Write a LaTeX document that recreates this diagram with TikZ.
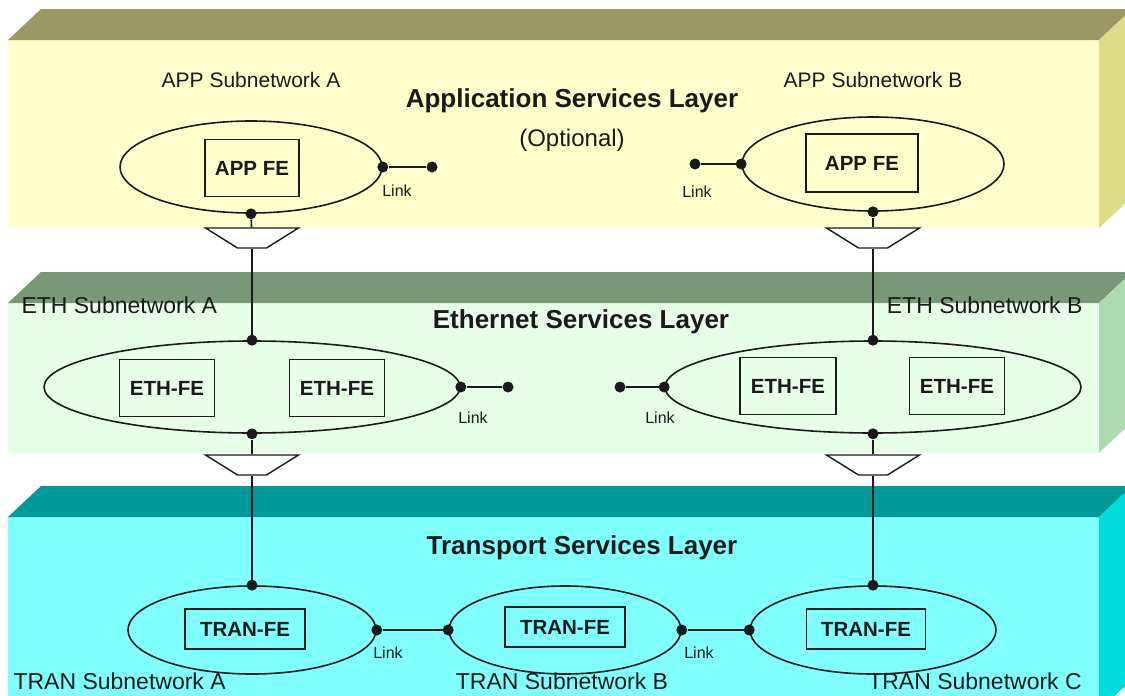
\documentclass[tikz,border=0pt]{standalone}
\usepackage{fontspec}
\setmainfont{Liberation Sans}
\usetikzlibrary{shapes.geometric}
\definecolor{appfront}{HTML}{FFFFCC}
\definecolor{apptop}{HTML}{999966}
\definecolor{appside}{HTML}{DDDD88}
\definecolor{ethfront}{HTML}{E6FFE6}
\definecolor{ethtop}{HTML}{789878}
\definecolor{ethside}{HTML}{AEDCAE}
\definecolor{tranfront}{HTML}{80FFFF}
\definecolor{trantop}{HTML}{009999}
\definecolor{transide}{HTML}{00DDDD}
\definecolor{ink}{HTML}{1A1A1A}
\tikzset{
  subnet/.style={ellipse,draw=ink,line width=1.6pt,inner sep=0pt},
  fe/.style={draw=ink,line width=1.6pt,text=ink,inner sep=0pt,
    font=\bfseries\fontsize{20.5}{24}\selectfont},
  joint/.style={circle,fill=ink,inner sep=0pt,minimum size=11pt},
  adapt/.style={trapezium,draw=ink,fill=white,line width=1.4pt,
    trapezium left angle=42,trapezium right angle=42,shape border rotate=180,
    trapezium stretches=true,minimum width=93pt,minimum height=20pt,inner sep=2pt},
  wire/.style={draw=ink,line width=1.6pt},
  layername/.style={text=ink,font=\bfseries\fontsize{26}{30}\selectfont},
  subname/.style={text=ink,font=\fontsize{23}{26}\selectfont},
  appname/.style={text=ink,font=\fontsize{21}{24}\selectfont},
  linkname/.style={text=ink,font=\fontsize{16}{18}\selectfont},
}
\begin{document}
\begin{tikzpicture}[x=1pt,y=-1pt]
\clip (0,0) rectangle (1125,696);
\fill[white] (0,0) rectangle (1125,696);
\fill[appfront] (8,40) rectangle (1099,228);
\fill[apptop] (8,40) -- (41,9) -- (1132,9) -- (1099,40) -- cycle;
\fill[appside] (1099,40) -- (1132,9) -- (1132,197) -- (1099,228) -- cycle;
\fill[ethfront] (8,303) rectangle (1099,453);
\fill[ethtop] (8,303) -- (41,272) -- (1132,272) -- (1099,303) -- cycle;
\fill[ethside] (1099,303) -- (1132,272) -- (1132,422) -- (1099,453) -- cycle;
\fill[tranfront] (8,517) rectangle (1099,710);
\fill[trantop] (8,517) -- (41,486) -- (1132,486) -- (1099,517) -- cycle;
\fill[transide] (1099,517) -- (1132,486) -- (1132,680) -- (1099,710) -- cycle;

\node[layername] (apptitle) at (572,101) {Application Services Layer};
\node[text=ink,font=\fontsize{24}{28}\selectfont] (optional) at (572,140) {(Optional)};
\node[appname] (appAname) at (251,80) {APP Subnetwork A};
\node[appname] (appBname) at (873,80) {APP Subnetwork B};
\node[subnet,minimum width=262pt,minimum height=92pt] (appA) at (251,167) {};
\node[subnet,minimum width=262pt,minimum height=94pt] (appB) at (873,164) {};
\node[fe,minimum width=94pt,minimum height=57pt] (appAfe) at (252,168) {APP FE};
\node[fe,minimum width=112pt,minimum height=58pt] (appBfe) at (862,163) {APP FE};
\node[joint] (appAe) at (appA.east) {};
\node[joint] (appAs) at (appA.south) {};
\node[joint] (appBw) at (appB.west) {};
\node[joint] (appBs) at (appB.south) {};
\node[joint] (appAlink) at (432,167) {};
\node[joint] (appBlink) at (695,164) {};
\draw[wire] (appAe) -- (appAlink);
\draw[wire] (appBw) -- (appBlink);
\node[linkname] (appAlinkname) at (397,191) {Link};
\node[linkname] (appBlinkname) at (697,192) {Link};

\node[layername] (ethtitle) at (581,322) {Ethernet Services Layer};
\node[subname,anchor=west] (ethAname) at (18,305) {ETH Subnetwork A};
\node[subname,anchor=east] (ethBname) at (1086,305) {ETH Subnetwork B};
\node[subnet,minimum width=416pt,minimum height=92pt] (ethA) at (252,387) {};
\node[subnet,minimum width=416pt,minimum height=92pt] (ethB) at (873,387) {};
\node[fe,minimum width=95pt,minimum height=57pt] (ethAfe1) at (167,388) {ETH-FE};
\node[fe,minimum width=95pt,minimum height=57pt] (ethAfe2) at (337,388) {ETH-FE};
\node[fe,minimum width=96pt,minimum height=57pt] (ethBfe1) at (788,386) {ETH-FE};
\node[fe,minimum width=95pt,minimum height=57pt] (ethBfe2) at (957,386) {ETH-FE};
\node[joint] (ethAn) at (ethA.north) {};
\node[joint] (ethAs) at (ethA.south) {};
\node[joint] (ethAe) at (ethA.east) {};
\node[joint] (ethBn) at (ethB.north) {};
\node[joint] (ethBs) at (ethB.south) {};
\node[joint] (ethBw) at (ethB.west) {};
\node[joint] (ethAlink) at (508,387) {};
\node[joint] (ethBlink) at (620,387) {};
\draw[wire] (ethAe) -- (ethAlink);
\draw[wire] (ethBw) -- (ethBlink);
\node[linkname] (ethAlinkname) at (473,418) {Link};
\node[linkname] (ethBlinkname) at (660,418) {Link};

\node[layername] (trantitle) at (582,548) {Transport Services Layer};
\node[subname,anchor=west] (tranAname) at (10,681) {TRAN Subnetwork A};
\node[subname] (tranBname) at (562,681) {TRAN Subnetwork B};
\node[subname] (tranCname) at (975,681) {TRAN Subnetwork C};
\node[subnet,minimum width=248pt,minimum height=88pt] (tranA) at (252,630) {};
\node[subnet,minimum width=232pt,minimum height=88pt] (tranB) at (565,630) {};
\node[subnet,minimum width=246pt,minimum height=88pt] (tranC) at (873,630) {};
\node[fe,minimum width=120pt,minimum height=40pt] (tranAfe) at (245,629) {TRAN-FE};
\node[fe,minimum width=120pt,minimum height=40pt] (tranBfe) at (565,627) {TRAN-FE};
\node[fe,minimum width=119pt,minimum height=40pt] (tranCfe) at (866,629) {TRAN-FE};
\node[joint] (tranAn) at (tranA.north) {};
\node[joint] (tranAe) at (tranA.east) {};
\node[joint] (tranBw) at (tranB.west) {};
\node[joint] (tranBe) at (tranB.east) {};
\node[joint] (tranCw) at (tranC.west) {};
\node[joint] (tranCn) at (tranC.north) {};
\draw[wire] (tranAe) -- (tranBw);
\draw[wire] (tranBe) -- (tranCw);
\node[linkname] (tranABname) at (388,653) {Link};
\node[linkname] (tranBCname) at (699,653) {Link};

\node[adapt] (adpA1) at (252,238) {};
\node[adapt] (adpB1) at (873,238) {};
\node[adapt] (adpA2) at (252,465) {};
\node[adapt] (adpB2) at (873,465) {};
\draw[wire] (appAs) -- (adpA1);
\draw[wire] (adpA1) -- (ethAn);
\draw[wire] (appBs) -- (adpB1);
\draw[wire] (adpB1) -- (ethBn);
\draw[wire] (ethAs) -- (adpA2);
\draw[wire] (adpA2) -- (tranAn);
\draw[wire] (ethBs) -- (adpB2);
\draw[wire] (adpB2) -- (tranCn);
\end{tikzpicture}
\end{document}
